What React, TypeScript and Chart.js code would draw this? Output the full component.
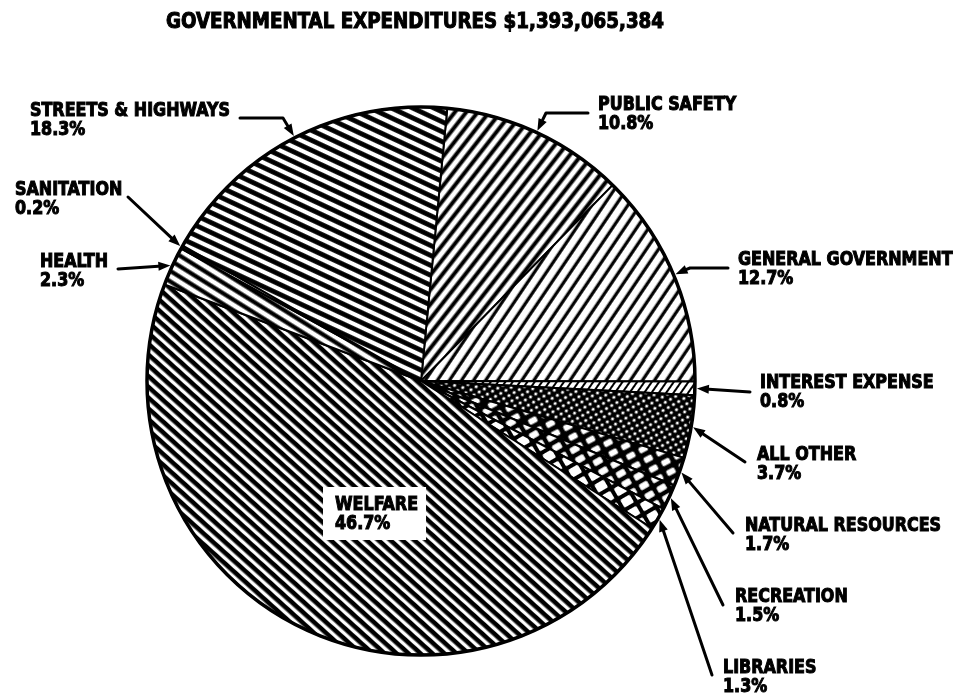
import React, { useEffect, useRef } from "react";
import { Chart, registerables } from "chart.js";

Chart.register(...registerables);

// ---------- data ----------
const TITLE_TEXT = "GOVERNMENTAL EXPENDITURES $1,393,065,384";
const categories = [
  "PUBLIC SAFETY",
  "GENERAL GOVERNMENT",
  "INTEREST EXPENSE",
  "ALL OTHER",
  "NATURAL RESOURCES",
  "RECREATION",
  "LIBRARIES",
  "WELFARE",
  "HEALTH",
  "SANITATION",
  "STREETS & HIGHWAYS",
];
const percents = [10.8, 12.7, 0.8, 3.7, 1.7, 1.5, 1.3, 46.7, 2.3, 0.2, 18.3];
const percentLabels = percents.map((p) => p.toFixed(1) + "%");

// ---------- layout (positions only) ----------
const W = 959;
const H = 695;
const LABEL_POS: [number, number][] = [
  [598, 110],
  [738, 265],
  [760, 388],
  [757, 460],
  [745, 531],
  [735, 602],
  [723, 673],
  [335, 510],
  [40, 267],
  [15, 195],
  [30, 116],
];
const LINE_GAP = 19;
const ARROW_TAIL: ([number, number] | null)[] = [
  [588, 113],
  [728, 268],
  [750, 392],
  [745, 462],
  [733, 533],
  [723, 605],
  [712, 675],
  null,
  [118, 269],
  [128, 197],
  [240, 118],
];
const ARROW_KNEE: ([number, number] | null)[] = [
  [546, 113],
  [690, 268],
  null,
  null,
  null,
  null,
  null,
  null,
  null,
  null,
  [283, 118],
];
const FONT_FAMILY = '"DejaVu Sans Condensed", "DejaVu Sans", sans-serif';

// ---------- patterns ----------
function stripes(ctx: CanvasRenderingContext2D, period: number, band: number, angle: number, bg = "#fff", fg = "#000") {
  const c = document.createElement("canvas");
  c.width = period;
  c.height = period;
  const g = c.getContext("2d")!;
  g.fillStyle = bg;
  g.fillRect(0, 0, period, period);
  g.fillStyle = fg;
  g.fillRect(0, (period - band) / 2, period, band);
  const p = ctx.createPattern(c, "repeat")!;
  p.setTransform(new DOMMatrix().rotateSelf(angle));
  return p;
}
function dots(ctx: CanvasRenderingContext2D, period: number, r: number, angle: number) {
  const c = document.createElement("canvas");
  c.width = period;
  c.height = period;
  const g = c.getContext("2d")!;
  g.fillStyle = "#000";
  g.fillRect(0, 0, period, period);
  g.fillStyle = "#fff";
  g.beginPath();
  g.arc(period / 2, period / 2, r, 0, Math.PI * 2);
  g.fill();
  const p = ctx.createPattern(c, "repeat")!;
  p.setTransform(new DOMMatrix().rotateSelf(angle));
  return p;
}
function cells(ctx: CanvasRenderingContext2D, w: number, h: number, gap: number, angle: number) {
  const c = document.createElement("canvas");
  c.width = w;
  c.height = h;
  const g = c.getContext("2d")!;
  g.fillStyle = "#000";
  g.fillRect(0, 0, w, h);
  g.fillStyle = "#fff";
  g.beginPath();
  (g as any).roundRect(gap / 2, gap / 2, w - gap, h - gap, 1.5);
  g.fill();
  const p = ctx.createPattern(c, "repeat")!;
  p.setTransform(new DOMMatrix().rotateSelf(angle));
  return p;
}

function drawSqueezed(ctx: CanvasRenderingContext2D, text: string, x: number, y: number, sx: number) {
  ctx.save();
  ctx.translate(x, y);
  ctx.scale(sx, 1);
  ctx.fillText(text, 0, 0);
  ctx.strokeText(text, 0, 0);
  ctx.restore();
}

function arrow(ctx: CanvasRenderingContext2D, pts: [number, number][]) {
  ctx.save();
  ctx.strokeStyle = "#000";
  ctx.fillStyle = "#000";
  ctx.lineWidth = 3;
  ctx.lineCap = "round";
  ctx.lineJoin = "round";
  const n = pts.length;
  const [tx, ty] = pts[n - 1];
  const [px, py] = pts[n - 2];
  const ang = Math.atan2(ty - py, tx - px);
  const headLen = 12;
  const bx = tx - Math.cos(ang) * headLen;
  const by = ty - Math.sin(ang) * headLen;
  ctx.beginPath();
  ctx.moveTo(pts[0][0], pts[0][1]);
  for (let i = 1; i < n - 1; i++) ctx.lineTo(pts[i][0], pts[i][1]);
  ctx.lineTo(bx, by);
  ctx.stroke();
  ctx.beginPath();
  ctx.moveTo(tx, ty);
  ctx.lineTo(bx + Math.cos(ang + Math.PI / 2) * 4.5, by + Math.sin(ang + Math.PI / 2) * 4.5);
  ctx.lineTo(bx + Math.cos(ang - Math.PI / 2) * 4.5, by + Math.sin(ang - Math.PI / 2) * 4.5);
  ctx.closePath();
  ctx.fill();
  ctx.restore();
}

const annotPlugin = {
  id: "annot",
  afterDatasetsDraw(chart: any) {
    const ctx: CanvasRenderingContext2D = chart.ctx;
    const meta = chart.getDatasetMeta(0);
    const arcs = meta.data;
    const cx = arcs[0].x;
    const cy = arcs[0].y;
    const R = arcs[0].outerRadius;

    // outer rim
    ctx.save();
    ctx.strokeStyle = "#000";
    ctx.lineWidth = 3.5;
    ctx.beginPath();
    ctx.arc(cx, cy, R, 0, Math.PI * 2);
    ctx.stroke();
    ctx.restore();

    // title
    ctx.save();
    ctx.fillStyle = "#000";
    ctx.strokeStyle = "#000";
    ctx.lineWidth = 1;
    ctx.textBaseline = "alphabetic";
    ctx.font = `bold 21px ${FONT_FAMILY}`;
    const tw = ctx.measureText(TITLE_TEXT).width;
    drawSqueezed(ctx, TITLE_TEXT, 166, 28, 498 / tw);

    // labels
    ctx.font = `bold 19px ${FONT_FAMILY}`;
    const sx = 200 / ctx.measureText("STREETS & HIGHWAYS").width;
    categories.forEach((name, i) => {
      const [lx, ly] = LABEL_POS[i];
      if (!ARROW_TAIL[i]) {
        const w1 = Math.max(ctx.measureText(name).width, ctx.measureText(percentLabels[i]).width) * sx;
        ctx.fillStyle = "#fff";
        ctx.fillRect(lx - 12, ly - 23, w1 + 20, 53);
        ctx.fillStyle = "#000";
      }
      drawSqueezed(ctx, name, lx, ly, sx);
      drawSqueezed(ctx, percentLabels[i], lx, ly + LINE_GAP, sx);
    });
    ctx.restore();

    // arrows pointing to slice midpoints
    arcs.forEach((a: any, i: number) => {
      const tail = ARROW_TAIL[i];
      if (!tail) return;
      const mid = (a.startAngle + a.endAngle) / 2;
      const tip: [number, number] = [a.x + Math.cos(mid) * (a.outerRadius + 2), a.y + Math.sin(mid) * (a.outerRadius + 2)];
      const pts: [number, number][] = [tail];
      if (ARROW_KNEE[i]) pts.push(ARROW_KNEE[i] as [number, number]);
      pts.push(tip);
      arrow(ctx, pts);
    });
  },
};

export default function App() {
  const ref = useRef<HTMLCanvasElement>(null);
  useEffect(() => {
    const canvas = ref.current!;
    const ctx = canvas.getContext("2d")!;
    const fills = [
      stripes(ctx, 9, 4, -52), // public safety
      stripes(ctx, 10.5, 3.2, -56), // general government
      stripes(ctx, 6, 2, -55), // interest expense
      dots(ctx, 6, 1.6, -30), // all other
      cells(ctx, 14, 11, 5, -28), // natural resources
      cells(ctx, 14, 11, 4.5, -30), // recreation
      cells(ctx, 15, 13, 4, -30), // libraries
      stripes(ctx, 8.5, 4.6, 42), // welfare
      stripes(ctx, 9, 4.2, 32), // health
      stripes(ctx, 9, 4.8, 25), // sanitation
      stripes(ctx, 9, 4.8, 25), // streets & highways
    ];
    const chart = new Chart(canvas, {
      type: "pie",
      data: {
        labels: categories,
        datasets: [
          {
            data: percents,
            backgroundColor: fills as any,
            borderColor: "#000",
            borderWidth: 2,
          },
        ],
      },
      options: {
        responsive: false,
        animation: false,
        rotation: 5.5,
        layout: { padding: { left: 146, right: 263, top: 106, bottom: 39 } },
        plugins: {
          legend: { display: false },
          tooltip: { enabled: false },
          title: { display: false },
        },
      },
      plugins: [annotPlugin],
    });
    return () => chart.destroy();
  }, []);
  return (
    <div style={{ position: "fixed", left: 0, top: 0, width: W, height: H, background: "#fff" }}>
      <canvas ref={ref} width={W} height={H} style={{ display: "block", width: W, height: H }} />
    </div>
  );
}
